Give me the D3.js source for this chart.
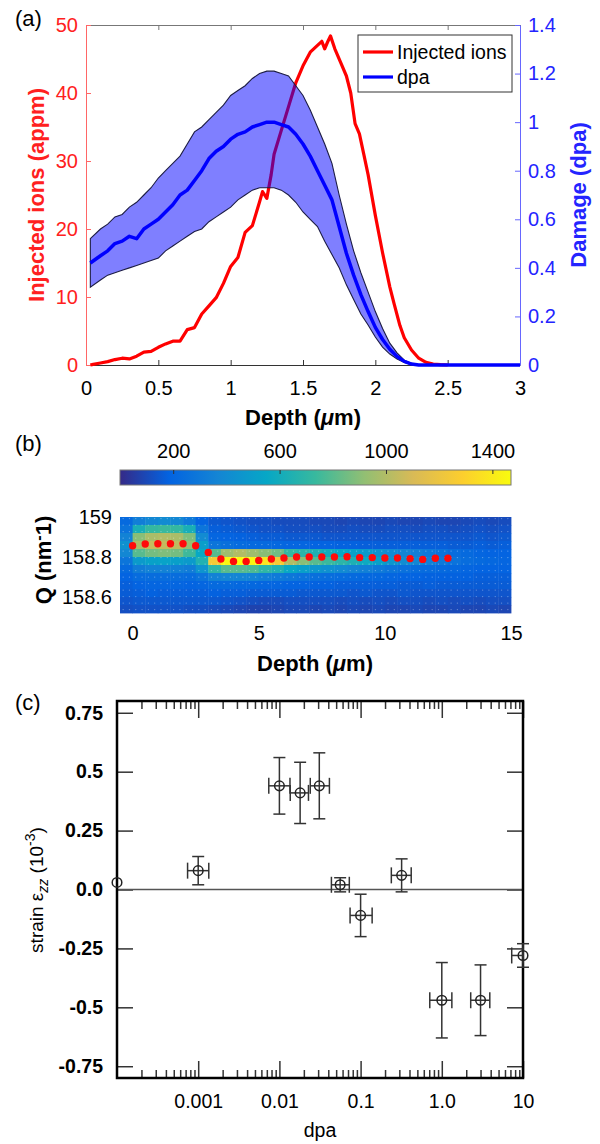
<!DOCTYPE html>
<html>
<head>
<meta charset="utf-8">
<script src="https://cdn.jsdelivr.net/npm/d3@7"></script>
<style>
body{margin:0;background:#fff;}
svg{display:block;font-family:"Liberation Sans",Arial,sans-serif;}
</style>
</head>
<body>
<svg id="fig" width="600" height="1144"></svg>
<script>
//---------- data (a) : SRIM profile
const ionDepth = [0.03,0.05,0.1,0.15,0.2,0.25,0.3,0.35,0.4,0.45,0.5,0.55,0.6,0.65,0.7,0.75,0.8,0.85,0.9,0.95,1.0,1.05,1.1,1.15,1.2,1.22,1.25,1.28,1.3,1.35,1.4,1.45,1.5,1.55,1.6,1.63,1.65,1.67,1.69,1.72,1.76,1.8,1.83,1.86,1.89,1.92,1.95,2.0,2.05,2.1,2.13,2.17,2.2,2.25,2.3,2.35,2.4,2.45,2.5];
const ions = [0,0.1,0.3,0.5,0.8,1.0,0.9,1.3,1.9,2.0,2.6,3.1,3.5,3.5,5.2,5.5,7.5,8.7,9.9,12,14.5,15.8,19.5,20.5,24,25.5,24.5,28,31,34.5,38,41.5,44,46,47,47.6,46.5,47.5,48.4,46.5,44.5,42.5,40,35.5,34,31,28,22,16.5,11.5,9,5.8,4,2.2,1.0,0.4,0.15,0.05,0];

const dpaDepth = [0.03,0.1,0.15,0.2,0.25,0.3,0.35,0.4,0.45,0.5,0.55,0.6,0.65,0.7,0.75,0.8,0.85,0.9,0.95,1.0,1.05,1.1,1.15,1.2,1.25,1.3,1.35,1.4,1.45,1.5,1.55,1.6,1.65,1.7,1.75,1.8,1.85,1.9,1.95,2.0,2.05,2.1,2.15,2.2,2.25,2.3,2.5,3.0];
const dpaMean = [0.42,0.45,0.47,0.50,0.51,0.53,0.52,0.56,0.58,0.60,0.63,0.66,0.70,0.72,0.76,0.80,0.85,0.88,0.90,0.93,0.95,0.96,0.98,0.99,1.0,1.0,0.99,0.98,0.95,0.91,0.86,0.80,0.74,0.68,0.57,0.46,0.37,0.29,0.22,0.155,0.105,0.065,0.035,0.015,0.004,0,0,0];
const dpaHigh = [0.52,0.56,0.58,0.61,0.62,0.65,0.67,0.70,0.73,0.77,0.80,0.83,0.86,0.91,0.96,0.98,1.01,1.04,1.07,1.11,1.13,1.15,1.18,1.20,1.21,1.21,1.20,1.19,1.15,1.11,1.05,0.98,0.91,0.83,0.70,0.58,0.47,0.38,0.30,0.22,0.15,0.09,0.05,0.02,0.007,0,0,0];
const dpaLow = [0.32,0.35,0.37,0.38,0.39,0.40,0.41,0.42,0.43,0.44,0.47,0.49,0.51,0.53,0.55,0.56,0.59,0.61,0.63,0.65,0.68,0.70,0.72,0.73,0.73,0.73,0.72,0.70,0.67,0.63,0.60,0.57,0.51,0.455,0.40,0.33,0.27,0.21,0.165,0.115,0.074,0.045,0.025,0.01,0.002,0,0,0];

const depthTicksA = [0,0.5,1,1.5,2,2.5,3];
const depthLabelsA = ["0","0.5","1","1.5","2","2.5","3"];
const ionTicks = [0,10,20,30,40,50];
const dpaTicks = [0,0.2,0.4,0.6,0.8,1,1.2,1.4];
const dpaLabels = ["0","0.2","0.4","0.6","0.8","1","1.2","1.4"];

//---------- data (b) : diffraction map
const heatDepth = [-0.25,0.25,0.75,1.25,1.75,2.25,2.75,3.25,3.75,4.25,4.75,5.25,5.75,6.25,6.75,7.25,7.75,8.25,8.75,9.25,9.75,10.25,10.75,11.25,11.75,12.25,12.75,13.25,13.75,14.25,14.75];
const heatQ = [158.98,158.94,158.90,158.86,158.82,158.78,158.74,158.70,158.66,158.62,158.58,158.54];
const heatCounts = [
 [220,330,380,400,380,300,190,150,140,130,120,120,110,110,110,100,100,90,100,90,90,100,90,90,100,90,90,100,110,100,110],
 [270,620,720,740,720,620,280,170,160,150,140,130,130,120,120,120,110,110,120,110,110,120,120,110,120,120,110,120,130,120,130],
 [350,900,980,1000,980,880,400,200,190,180,170,160,160,150,150,150,140,140,140,140,140,140,140,140,140,140,140,140,150,140,150],
 [430,980,1050,1050,1030,930,500,280,250,230,220,220,210,200,200,190,190,180,180,170,170,170,170,170,170,170,160,160,170,160,170],
 [380,800,860,880,860,750,560,800,950,1000,950,900,850,720,680,640,600,560,520,480,440,400,360,330,300,270,240,220,200,190,190],
 [280,480,520,530,510,480,650,1250,1450,1470,1450,1380,1250,1000,900,800,740,690,640,580,520,460,410,380,340,300,270,240,220,210,200],
 [220,320,350,350,340,320,450,700,800,800,780,700,650,560,510,460,430,400,370,340,310,280,260,240,230,220,210,200,190,190,190],
 [190,230,240,240,240,230,270,350,370,370,360,330,310,290,270,250,240,230,220,210,210,200,190,190,180,180,180,180,170,170,170],
 [170,190,200,200,200,190,200,220,220,210,210,200,200,190,190,180,180,170,170,170,170,170,160,160,170,160,160,160,160,160,160],
 [160,170,180,170,170,170,170,180,170,170,160,160,160,160,150,150,150,150,140,150,140,140,150,140,140,140,140,140,140,140,140],
 [140,150,150,150,150,150,150,150,140,130,120,110,110,120,120,120,120,110,120,110,120,110,120,120,110,120,110,120,110,120,120],
 [120,130,130,130,130,120,120,110,100,90,80,80,90,100,100,90,100,90,100,90,100,90,90,100,90,90,100,90,90,100,90]
];
const peakDepth = [0,0.5,1,1.5,2,2.5,3,3.5,4,4.5,5,5.5,6,6.5,7,7.5,8,8.5,9,9.5,10,10.5,11,11.5,12,12.5];
const peakQ = [158.856,158.865,158.866,158.866,158.866,158.856,158.823,158.79,158.778,158.778,158.783,158.79,158.795,158.80,158.80,158.80,158.80,158.801,158.797,158.797,158.795,158.795,158.792,158.788,158.794,158.794];
const colorTicks = [200,600,1000,1400];
const depthTicksB = [0,5,10,15];
const qTicks = [158.6,158.8,159];
const qLabels = ["158.6","158.8","159"];

//---------- data (c) : strain vs dose
const doseC = [0.0001,0.001,0.01,0.018,0.031,0.056,0.1,0.32,1.0,3.0,10];
const doseLo = [null,0.00074,0.0074,0.0136,0.024,0.0437,0.0742,0.239,0.711,2.27,7.26];
const doseHi = [null,0.00135,0.0135,0.0228,0.0413,0.0726,0.1387,0.42,1.33,3.9,10];
const strain = [0.03,0.08,0.44,0.41,0.44,0.02,-0.11,0.06,-0.47,-0.47,-0.28];
const strainLo = [null,0.02,0.32,0.28,0.30,-0.01,-0.20,-0.01,-0.63,-0.62,-0.33];
const strainHi = [null,0.14,0.56,0.54,0.58,0.05,-0.02,0.13,-0.31,-0.32,-0.23];
const doseMajor = [0.001,0.01,0.1,1,10];
const doseLabels = ["0.001","0.01","0.1","1.0","10"];
const strainTicks = [-0.75,-0.5,-0.25,0,0.25,0.5,0.75];
const strainLabels = ["-0.75","-0.5","-0.25","0.0","0.25","0.5","0.75"];

const FONT = '"Liberation Sans", Arial, sans-serif';
const svg = d3.select("#fig");

function styleAxis(g, lineColor, textColor, size, weight){
	g.attr("font-family", FONT).attr("font-size", size);
	g.select(".domain").attr("stroke", lineColor);
	g.selectAll(".tick line").attr("stroke", lineColor);
	g.selectAll(".tick text").attr("fill", textColor).attr("font-weight", weight || "normal");
}

function depthLabel(sel){
	sel.append("tspan").text("Depth (");
	sel.append("tspan").attr("font-style","italic").text("\u03bc");
	sel.append("tspan").text("m)");
}

function panelLabel(txt, y){
	svg.append("text").attr("x",15).attr("y",y).attr("font-size","22px").text(txt);
}

//=================== (a)
const xA = d3.scaleLinear().domain([0,3]).range([86,520]);
const yIon = d3.scaleLinear().domain([0,50]).range([365,25]);
const yDpa = d3.scaleLinear().domain([0,1.4]).range([365,25]);
const gA = svg.append("g");

panelLabel("(a)", 26);

//axes
gA.append("g").attr("transform","translate(0,25)")
	.call(d3.axisTop(xA).tickValues(depthTicksA).tickFormat("").tickSizeInner(-5).tickSizeOuter(0))
	.call(g => styleAxis(g,"#777","#000","20px"));
gA.append("g").attr("transform","translate(0,365)")
	.call(d3.axisBottom(xA).tickValues(depthTicksA).tickFormat((d,i) => depthLabelsA[i]).tickSizeInner(-5).tickSizeOuter(0).tickPadding(16))
	.call(g => styleAxis(g,"#333","#000","20px"));
gA.append("g").attr("transform","translate(86,0)")
	.call(d3.axisLeft(yIon).tickValues(ionTicks).tickSizeInner(-5).tickSizeOuter(0).tickPadding(8))
	.call(g => styleAxis(g,"#ff6666","#ff2020","20px"));
gA.append("g").attr("transform","translate(520,0)")
	.call(d3.axisRight(yDpa).tickValues(dpaTicks).tickFormat((d,i) => dpaLabels[i]).tickSizeInner(-5).tickSizeOuter(0).tickPadding(8))
	.call(g => styleAxis(g,"#6666ff","#2424ff","20px"));

//injected ions
gA.append("path")
	.datum(d3.zip(ionDepth, ions))
	.attr("fill","none")
	.attr("stroke","#ff0000")
	.attr("stroke-width",3.2)
	.attr("stroke-linejoin","round")
	.attr("d", d3.line().x(d => xA(d[0])).y(d => yIon(d[1])));

//dpa band
const band = d3.range(46).map(i => [dpaDepth[i], dpaLow[i], dpaHigh[i]]);
gA.append("path")
	.datum(band)
	.attr("fill","#0000ff")
	.attr("fill-opacity",0.5)
	.attr("stroke","#1c1c44")
	.attr("stroke-width",1.1)
	.attr("d", d3.area().x(d => xA(d[0])).y0(d => yDpa(d[1])).y1(d => yDpa(d[2])));

//dpa mean
gA.append("path")
	.datum(d3.zip(dpaDepth, dpaMean))
	.attr("fill","none")
	.attr("stroke","#0000ff")
	.attr("stroke-width",3.5)
	.attr("stroke-linejoin","round")
	.attr("d", d3.line().x(d => xA(d[0])).y(d => yDpa(d[1])));

//legend
const leg = gA.append("g");
leg.append("rect").attr("x",358).attr("y",35).attr("width",154).attr("height",57)
	.attr("fill","#fff").attr("stroke","#333").attr("stroke-width",1);
[["Injected ions","#ff0000",52],["dpa","#0000ff",77]].forEach(function(l){
	leg.append("line").attr("x1",363).attr("x2",393).attr("y1",l[2]).attr("y2",l[2])
		.attr("stroke",l[1]).attr("stroke-width",3.2);
	leg.append("text").attr("x",397).attr("y",l[2]+7).attr("font-size","19.5px").text(l[0]);
});

//titles
gA.append("text").attr("x",303).attr("y",425).attr("text-anchor","middle")
	.attr("font-size","22px").attr("font-weight","bold").call(depthLabel);
gA.append("text").attr("transform","translate(44,195) rotate(-90)").attr("text-anchor","middle")
	.attr("font-size","22px").attr("font-weight","bold").attr("fill","#ff2020").text("Injected ions (appm)");
gA.append("text").attr("transform","translate(586,195) rotate(-90)").attr("text-anchor","middle")
	.attr("font-size","22px").attr("font-weight","bold").attr("fill","#2424ff").text("Damage (dpa)");

//=================== (b)
const parulaStops = ["#352a87","#0363e1","#1485d4","#06a7c6","#38b99e","#92bf73","#d9ba56","#fcce2e","#f9fb0e"];
const cMax = 1470;
const color = d3.scaleLinear()
	.domain(parulaStops.map((c,i) => i / (parulaStops.length - 1) * cMax))
	.range(parulaStops)
	.clamp(true);

const xB = d3.scaleLinear().domain([-0.5,15]).range([120,511]);
const yB = d3.scaleLinear().domain([158.6,159]).range([597,517]);
const xCb = d3.scaleLinear().domain([0,cMax]).range([120,511]);
const gB = svg.append("g");

panelLabel("(b)", 451);

//colorbar
const grad = svg.append("defs").append("linearGradient").attr("id","parula");
parulaStops.forEach((c,i) => grad.append("stop").attr("offset", (i/(parulaStops.length-1)*100)+"%").attr("stop-color",c));
gB.append("rect").attr("x",120).attr("y",470).attr("width",391).attr("height",15)
	.attr("fill","url(#parula)").attr("stroke","#777").attr("stroke-width",1);
gB.append("g").attr("transform","translate(0,470)")
	.call(d3.axisTop(xCb).tickValues(colorTicks).tickFormat(d3.format("d")).tickSizeInner(-4).tickSizeOuter(0).tickPadding(12))
	.call(g => styleAxis(g,"#333","#000","20px"))
	.call(g => g.select(".domain").remove());

//map cells
const cw = xB(0.5) - xB(0);
const ch = yB(158.6) - yB(158.64);
heatQ.forEach(function(q, r){
	gB.append("g").selectAll("rect")
		.data(heatCounts[r])
		.enter()
		.append("rect")
		.attr("x", (d,i) => xB(heatDepth[i]) - cw/2)
		.attr("y", yB(q) - ch/2)
		.attr("width", cw + 0.4)
		.attr("height", ch + 0.4)
		.attr("fill", d => color(d));
});

//dotted texture of the scatter markers
const dots = d3.cross(d3.range(-0.375,15,0.25), d3.range(158.537,159.0,0.0325));
gB.append("g").selectAll("circle")
	.data(dots)
	.enter()
	.append("circle")
	.attr("cx", d => xB(d[0]))
	.attr("cy", d => yB(d[1]))
	.attr("r",0.7)
	.attr("fill","#fff")
	.attr("fill-opacity",0.35);

//peak positions
gB.append("g").selectAll("circle")
	.data(d3.zip(peakDepth, peakQ))
	.enter()
	.append("circle")
	.attr("cx", d => xB(d[0]))
	.attr("cy", d => yB(d[1]))
	.attr("r",3.7)
	.attr("fill","#ff0a0a");

//axes (no lines)
gB.append("g").attr("transform","translate(0,613)")
	.call(d3.axisBottom(xB).tickValues(depthTicksB).tickSize(0).tickPadding(13))
	.call(g => styleAxis(g,"none","#000","20px"))
	.call(g => g.select(".domain").remove());
gB.append("g").attr("transform","translate(120,0)")
	.call(d3.axisLeft(yB).tickValues(qTicks).tickFormat((d,i) => qLabels[i]).tickSize(0).tickPadding(8))
	.call(g => styleAxis(g,"none","#000","20px"))
	.call(g => g.select(".domain").remove());

gB.append("text").attr("x",315).attr("y",671).attr("text-anchor","middle")
	.attr("font-size","22px").attr("font-weight","bold").call(depthLabel);
const qt = gB.append("text").attr("transform","translate(51,560) rotate(-90)").attr("text-anchor","middle")
	.attr("font-size","22px").attr("font-weight","bold");
qt.append("tspan").text("Q (nm");
qt.append("tspan").attr("dy",-7).attr("font-size","16px").text("-");
qt.append("tspan").attr("dy",7).text("1)");

//=================== (c)
const xC = d3.scaleLog().domain([1e-4,10]).range([117,523]);
const yC = d3.scaleLinear().domain([-0.8,0.8]).range([1078,701]);
const gC = svg.append("g");

panelLabel("(c)", 710);

const minorTicks = xC.ticks().filter(d => doseMajor.indexOf(d) < 0 && d > 1e-4 && d < 10);

//log ticks, bottom and top
[[1078, d3.axisBottom],[701, d3.axisTop]].forEach(function(a){
	gC.append("g").attr("transform","translate(0,"+a[0]+")")
		.call(a[1](xC).tickValues(minorTicks).tickFormat("").tickSizeInner(-8).tickSizeOuter(0))
		.call(g => styleAxis(g,"#333","#000","19.5px"))
		.call(g => g.select(".domain").remove());
	gC.append("g").attr("transform","translate(0,"+a[0]+")")
		.call(a[1](xC).tickValues(doseMajor).tickFormat(a[0] > 900 ? (d,i) => doseLabels[i] : "").tickSizeInner(-17).tickSizeOuter(0).tickPadding(16))
		.call(g => styleAxis(g,"#333","#000","19.5px"))
		.call(g => g.select(".domain").remove());
});
gC.append("g").attr("transform","translate(117,0)")
	.call(d3.axisLeft(yC).tickValues(strainTicks).tickFormat((d,i) => strainLabels[i]).tickSizeInner(-16).tickSizeOuter(0).tickPadding(14))
	.call(g => styleAxis(g,"#333","#000","19.5px","bold"))
	.call(g => g.select(".domain").remove());
gC.append("g").attr("transform","translate(523,0)")
	.call(d3.axisRight(yC).tickValues(strainTicks).tickFormat("").tickSizeInner(-16).tickSizeOuter(0))
	.call(g => styleAxis(g,"#333","#000","19.5px"))
	.call(g => g.select(".domain").remove());
gC.selectAll(".tick line").attr("stroke-width",1.5);

//zero line
gC.append("line").attr("x1",xC.range()[0]).attr("x2",xC.range()[1])
	.attr("y1",yC(0)).attr("y2",yC(0)).attr("stroke","#555").attr("stroke-width",1.6);

//frame
gC.append("rect").attr("x",117).attr("y",701).attr("width",406).attr("height",377)
	.attr("fill","none").attr("stroke","#000").attr("stroke-width",2.5);

//error bars and points
const pts = doseC.map((d,i) => ({x:d, y:strain[i], xl:doseLo[i], xh:doseHi[i], yl:strainLo[i], yh:strainHi[i]}));
const pg = gC.append("g").attr("stroke","#333").attr("stroke-width",1.5).attr("fill","none");
pts.forEach(function(p){
	const cx = xC(p.x), cy = yC(p.y);
	if (p.yl !== null){
		pg.append("line").attr("x1",cx).attr("x2",cx).attr("y1",yC(p.yl)).attr("y2",yC(p.yh));
		[p.yl,p.yh].forEach(v => pg.append("line").attr("x1",cx-6).attr("x2",cx+6).attr("y1",yC(v)).attr("y2",yC(v)));
		pg.append("line").attr("x1",xC(p.xl)).attr("x2",xC(p.xh)).attr("y1",cy).attr("y2",cy);
		[p.xl,p.xh].forEach(v => pg.append("line").attr("x1",xC(v)).attr("x2",xC(v)).attr("y1",cy-8).attr("y2",cy+8));
	}
	pg.append("circle").attr("cx",cx).attr("cy",cy).attr("r",4.8).attr("stroke","#222");
});

//titles
gC.append("text").attr("x",320).attr("y",1137).attr("text-anchor","middle")
	.attr("font-size","19.5px").text("dpa");
const st = gC.append("text").attr("transform","translate(43,890) rotate(-90)").attr("text-anchor","middle")
	.attr("font-size","19px");
st.append("tspan").text("strain \u03b5");
st.append("tspan").attr("dy",5).attr("font-size","14px").attr("font-style","italic").text("zz");
st.append("tspan").attr("dy",-5).text(" (10");
st.append("tspan").attr("dy",-8).attr("font-size","14px").text("-3");
st.append("tspan").attr("dy",8).text(")");
</script>
</body>
</html>
